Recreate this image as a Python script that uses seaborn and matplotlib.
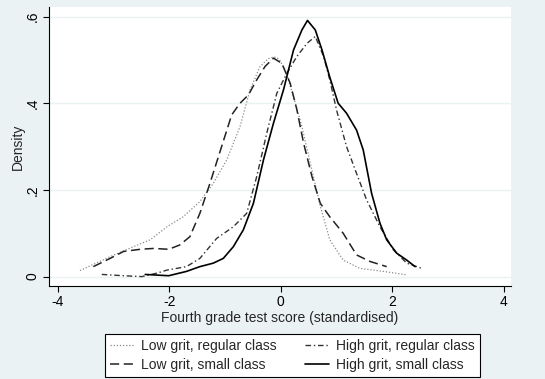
import numpy as np
import pandas as pd
import seaborn as sns
import matplotlib.pyplot as plt

# density curves (x = test score, y = density)
low_reg_x = [-3.60, -3.06, -2.64, -2.34, -2.04, -1.75, -1.45, -1.21, -0.97, -0.73, -0.55, -0.37,
             -0.22, -0.12, -0.03, 0.08, 0.23, 0.38, 0.53, 0.71, 0.88, 1.12, 1.42, 1.84, 2.26]
low_reg_y = [0.014, 0.046, 0.069, 0.085, 0.115, 0.138, 0.173, 0.215, 0.269, 0.346, 0.431, 0.485,
             0.503, 0.507, 0.502, 0.477, 0.415, 0.346, 0.262, 0.162, 0.085, 0.038, 0.019, 0.012, 0.004]

low_small_x = [-3.36, -3.06, -2.82, -2.52, -2.28, -2.01, -1.81, -1.63, -1.45, -1.27, -1.06, -0.88,
               -0.73, -0.58, -0.43, -0.28, -0.13, 0.02, 0.17, 0.29, 0.41, 0.56, 0.71, 0.88, 1.12,
               1.36, 1.60, 1.90]
low_small_y = [0.023, 0.042, 0.058, 0.063, 0.065, 0.063, 0.073, 0.092, 0.146, 0.215, 0.300, 0.373,
               0.400, 0.419, 0.454, 0.485, 0.504, 0.492, 0.446, 0.385, 0.308, 0.231, 0.169, 0.138,
               0.100, 0.050, 0.035, 0.023]

high_reg_x = [-3.21, -2.82, -2.49, -2.22, -2.04, -1.69, -1.45, -1.15, -0.85, -0.61, -0.43, -0.25,
              -0.07, 0.11, 0.29, 0.47, 0.62, 0.77, 0.88, 1.00, 1.18, 1.36, 1.54, 1.78, 2.02, 2.26,
              2.53]
high_reg_y = [0.005, 0.002, 0.000, 0.008, 0.015, 0.023, 0.042, 0.088, 0.115, 0.146, 0.231, 0.331,
              0.423, 0.469, 0.508, 0.538, 0.554, 0.508, 0.454, 0.385, 0.300, 0.238, 0.177, 0.115,
              0.062, 0.031, 0.019]

high_small_x = [-2.43, -2.01, -1.69, -1.45, -1.21, -1.03, -0.85, -0.67, -0.49, -0.31, -0.13, 0.05,
                0.23, 0.38, 0.48, 0.62, 0.74, 0.88, 1.03, 1.18, 1.36, 1.48, 1.63, 1.78, 1.90, 2.08,
                2.26, 2.41]
high_small_y = [0.005, 0.002, 0.012, 0.023, 0.031, 0.042, 0.069, 0.108, 0.169, 0.269, 0.354, 0.431,
                0.523, 0.569, 0.591, 0.569, 0.523, 0.460, 0.400, 0.377, 0.338, 0.292, 0.192, 0.123,
                0.085, 0.054, 0.038, 0.023]

labels = ['Low grit, regular class', 'Low grit, small class',
          'High grit, regular class', 'High grit, small class']
xticks = [-4, -2, 0, 2, 4]
yticks = [0, 0.2, 0.4, 0.6]
yticklabels = ['0', '.2', '.4', '.6']

sns.set_style('white')
plt.rcParams['font.family'] = ['Liberation Sans', 'DejaVu Sans']

bg = '#eaf2f3'
fig = plt.figure(figsize=(5.45, 3.79), dpi=100, facecolor=bg)
ax = fig.add_axes([49 / 545, 1 - 285.7 / 379, 462 / 545, 278.7 / 379])
ax.set_facecolor('white')

series = [
    (low_reg_x, low_reg_y, dict(color='#8a8a8a', linestyle=(0, (1, 1.5)), linewidth=0.9)),
    (low_small_x, low_small_y, dict(color='#222222', linestyle=(0, (6, 3)), linewidth=1.1)),
    (high_reg_x, high_reg_y, dict(color='#333333', linestyle=(0, (4, 2, 1, 2)), linewidth=1.0)),
    (high_small_x, high_small_y, dict(color='black', linestyle='-', linewidth=1.2)),
]
for (xs, ys, kw), lab in zip(series, labels):
    df = pd.DataFrame({'x': xs, 'y': ys})
    sns.lineplot(data=df, x='x', y='y', ax=ax, sort=False, estimator=None, label=lab, **kw)

ax.set_xlim(-4.156, 4.13)
ax.set_ylim(-0.021, 0.622)
ax.set_xticks(xticks)
ax.set_xticklabels([str(t) for t in xticks])
ax.set_yticks(yticks)
ax.set_yticklabels(yticklabels, rotation=90, va='center')
for t in yticks:
    ax.axhline(t, color=bg, linewidth=1.0, zorder=0)

for s in ['top', 'right']:
    ax.spines[s].set_visible(False)
for s in ['left', 'bottom']:
    ax.spines[s].set_color('black')
    ax.spines[s].set_linewidth(0.8)
ax.tick_params(axis='both', direction='out', length=4, width=0.8, colors='black',
               labelsize=10, bottom=True, left=True, pad=3)

ax.set_xlabel('Fourth grade test score (standardised)', fontsize=10, labelpad=1)
ax.set_ylabel('Density', fontsize=10, labelpad=0)

ax.legend(loc='lower center', bbox_to_anchor=(292.5 / 545, 2 / 379), bbox_transform=fig.transFigure,
          ncol=2, fontsize=10, frameon=True, fancybox=False, edgecolor='black', framealpha=1,
          handlelength=1.75, handletextpad=0.5, columnspacing=2.0, borderpad=0.35,
          labelspacing=0.36, borderaxespad=0)
ax.get_legend().get_frame().set_linewidth(0.8)

fig.savefig('out.png', dpi=100, facecolor=bg)
